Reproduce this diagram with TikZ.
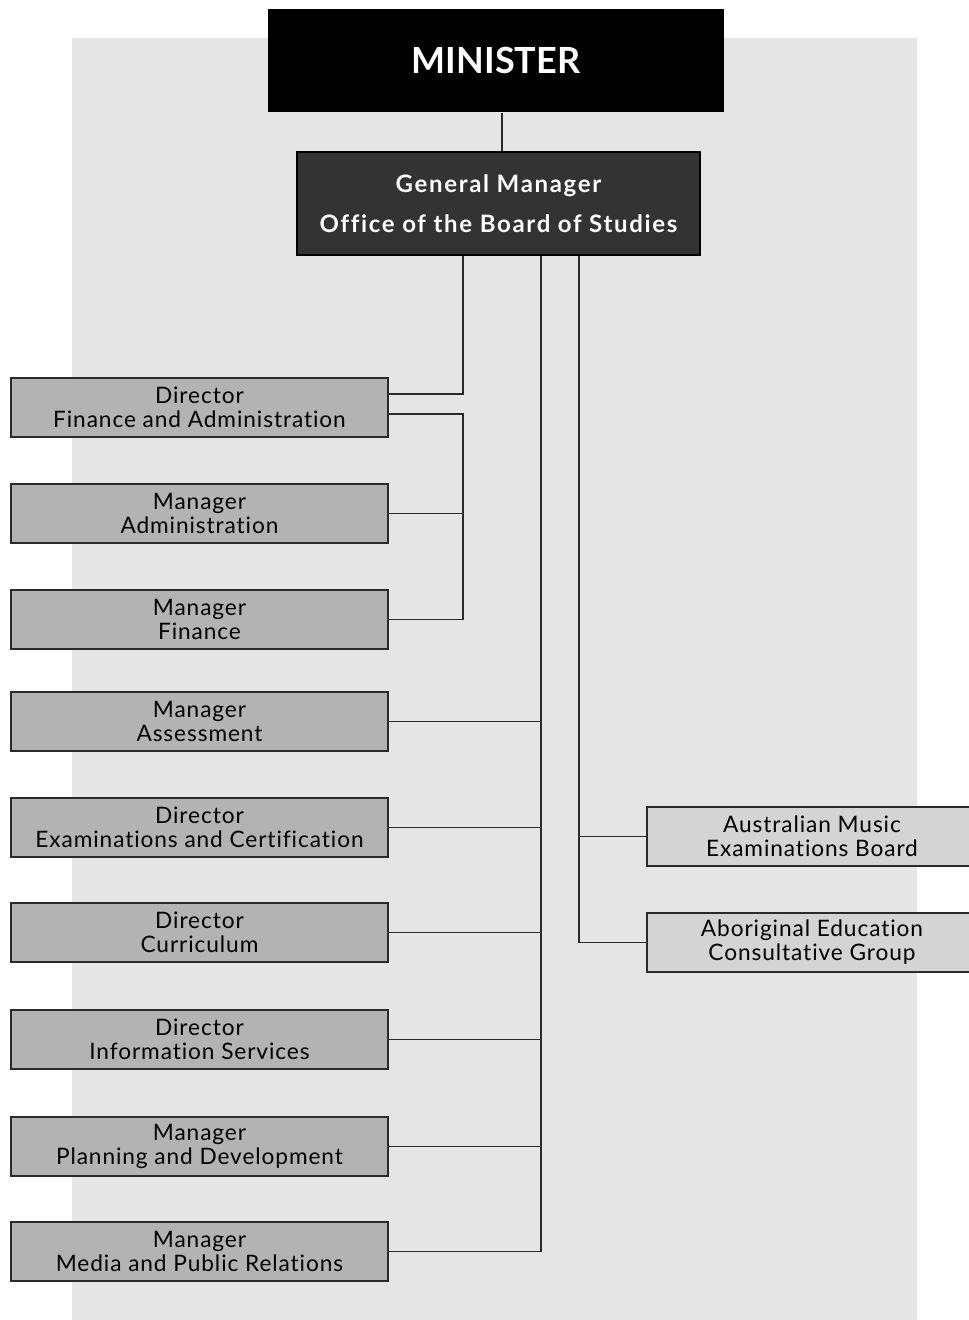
\documentclass[tikz,border=0pt]{standalone}
\usepackage{fontspec}
\setmainfont[Ligatures=NoCommon]{Lato}
\usetikzlibrary{calc}
\definecolor{panelgrey}{HTML}{E5E5E5}
\definecolor{staffgrey}{HTML}{B3B3B3}
\definecolor{advisegrey}{HTML}{D4D4D4}
\definecolor{gmgrey}{HTML}{333333}
\definecolor{linegrey}{HTML}{2A2A2A}

\begin{document}
\begin{tikzpicture}[x=0.75pt, y=-0.75pt, line width=1.1pt, draw=linegrey,
  staff/.style={draw=linegrey, fill=staffgrey, rectangle, inner sep=0pt,
    minimum width=282.75pt, minimum height=44.25pt, align=center,
    font=\fontsize{17}{18}\selectfont\addfontfeatures{LetterSpace=4}},
  advise/.style={staff, fill=advisegrey, minimum width=247.5pt}]
  \useasboundingbox (0,0) rectangle (969,1320);
  \fill[panelgrey] (72,38) rectangle (917,1320);

  \node [fill=black,rectangle,minimum width=342pt,minimum height=77.25pt,
    text=white,font=\fontsize{27}{30}\selectfont\bfseries] (min) at (496,60.5) {MINISTER};
  \node [draw=black,fill=gmgrey,rectangle,minimum width=302.25pt,minimum height=77.25pt,
    text=white,align=center,font=\fontsize{18}{30}\selectfont\bfseries\addfontfeatures{LetterSpace=7}] (gm) at (498.5,203.5)
    {General Manager\\Office of the Board of Studies};

  \node [staff] (dfa)    at (199.5,407.5)  {Director\\Finance and Administration};
  \node [staff] (madm)   at (199.5,513.5)  {Manager\\Administration};
  \node [staff] (mfin)   at (199.5,619.5)  {Manager\\Finance};
  \node [staff] (mass)   at (199.5,721.5)  {Manager\\Assessment};
  \node [staff] (dexam)  at (199.5,827.5)  {Director\\Examinations and Certification};
  \node [staff] (dcur)   at (199.5,932.5)  {Director\\Curriculum};
  \node [staff] (dinfo)  at (199.5,1039.5) {Director\\Information Services};
  \node [staff] (mplan)  at (199.5,1146.5) {Manager\\Planning and Development};
  \node [staff] (mmedia) at (199.5,1251.5) {Manager\\Media and Public Relations};

  \node [advise] (ameb) at (812,836.5) {Australian Music\\Examinations Board};
  \node [advise] (aecg) at (812,942.5) {Aboriginal Education\\Consultative Group};

  \coordinate (finbus)  at (463,255);
  \coordinate (mainbus) at (541,255);
  \coordinate (advbus)  at (579,255);

  \draw (min.south -| 502,0) -- (gm.north -| 502,0);

  \draw (gm.south -| finbus) |- ([yshift=10.1pt]dfa.east);
  \draw ([yshift=-4.9pt]dfa.east) -| (mfin.east -| finbus) -- (mfin.east);
  \draw (madm.east) -- (madm.east -| finbus);

  \draw (gm.south -| mainbus) -- (mmedia.east -| mainbus) -- (mmedia.east);
  \foreach \n in {mass,dexam,dcur,dinfo,mplan}
    \draw (\n.east) -- (\n.east -| mainbus);

  \draw (gm.south -| advbus) |- (aecg.west);
  \draw (ameb.west) -- (ameb.west -| advbus);
\end{tikzpicture}
\end{document}
